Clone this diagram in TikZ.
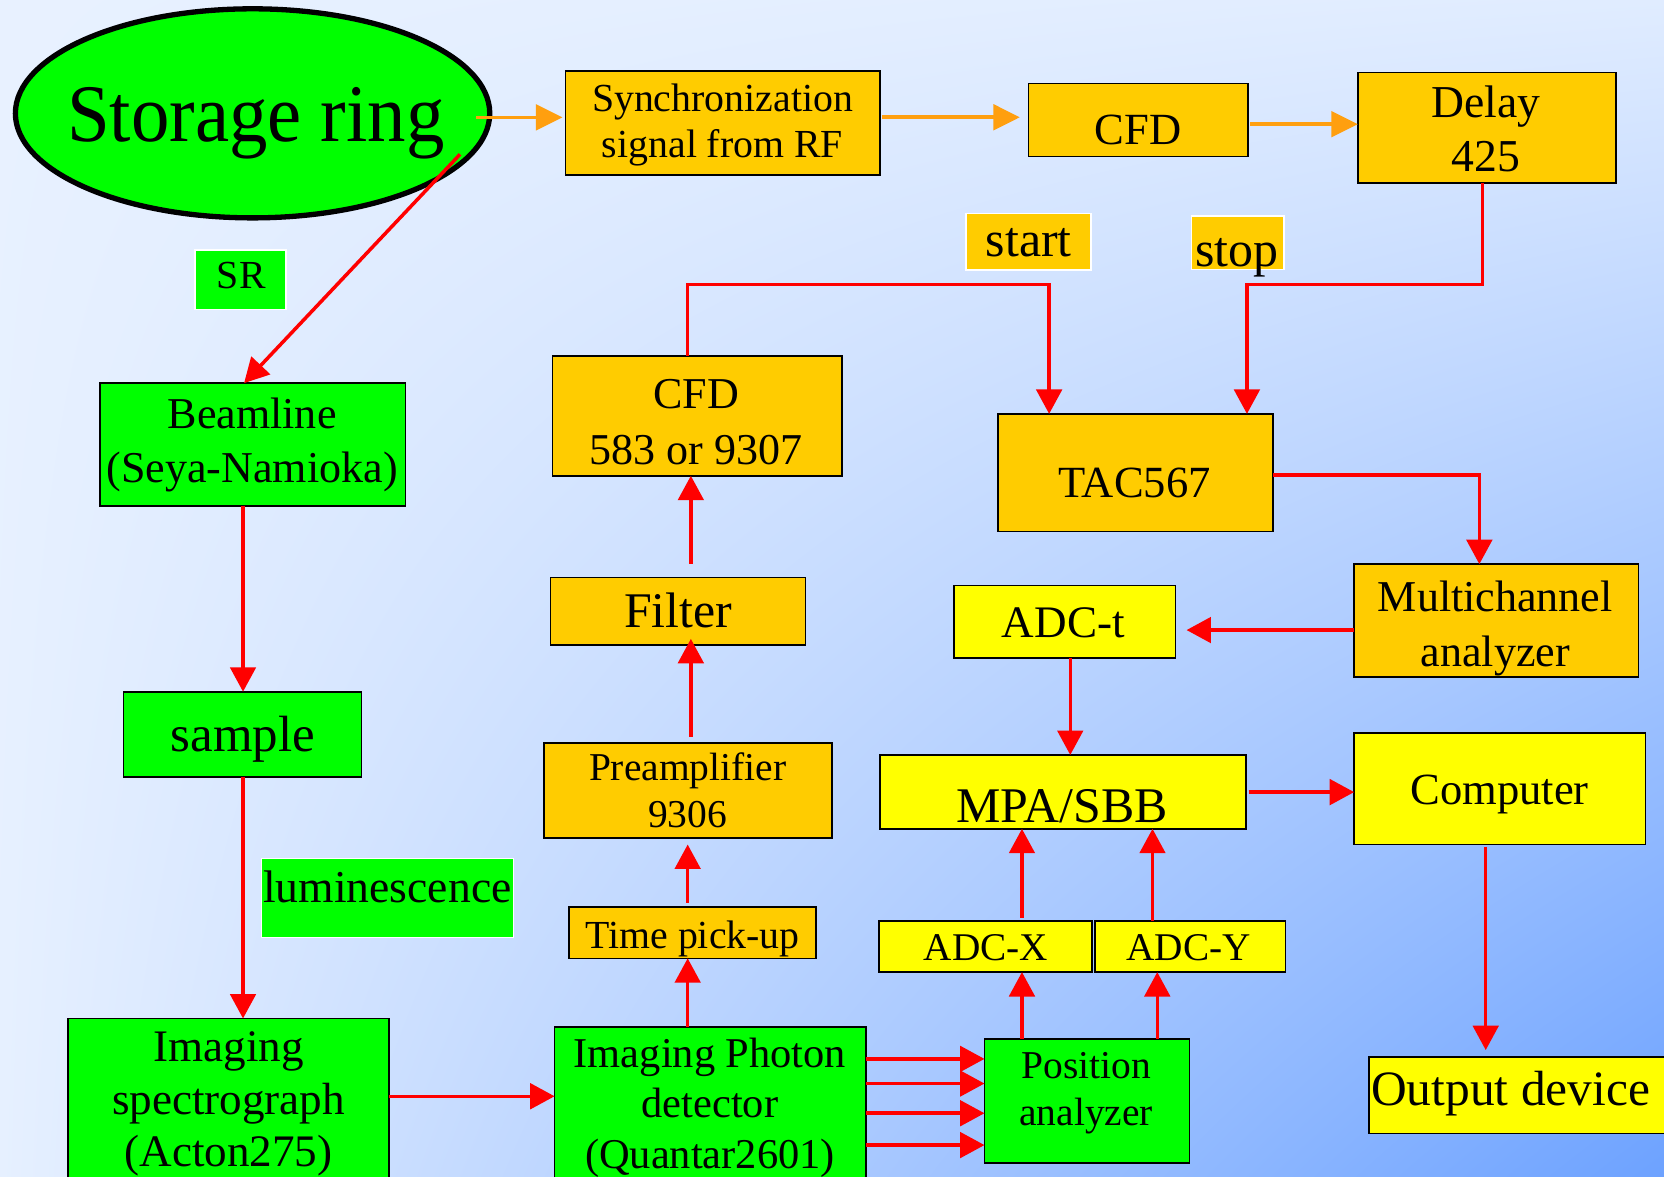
\documentclass[tikz,border=0pt]{standalone}
\usepackage{graphicx}
\usepackage{fontspec}
\setmainfont{Liberation Serif}
\usetikzlibrary{arrows.meta,shapes.geometric,shadings}
\definecolor{bgul}{HTML}{E8F1FF}
\definecolor{bgur}{HTML}{E0ECFF}
\definecolor{bgll}{HTML}{E6F0FF}
\definecolor{bglr}{HTML}{6DA2FF}
\definecolor{grn}{HTML}{00FF00}
\definecolor{amb}{HTML}{FFCC00}
\definecolor{ylw}{HTML}{FFFF00}
\definecolor{org}{HTML}{FF9F0F}
\definecolor{rd}{HTML}{FF0000}
\newcommand\fsz[2]{\fontsize{#1}{#2}\selectfont}
\begin{document}
\begin{tikzpicture}[x=1pt, y=-1pt,
  box/.style={rectangle, draw=black, line width=1.5pt, inner sep=0pt, outer sep=0pt},
  gbox/.style={box, fill=grn},
  abox/.style={box, fill=amb},
  ybox/.style={box, fill=ylw},
  tagbox/.style={rectangle, draw=white, line width=1.5pt, inner sep=0pt, outer sep=0pt},
  txt/.style={inner sep=0pt, outer sep=0pt, text=black},
  mtxt/.style={txt, align=center, anchor=north},
  stxt/.style={txt, anchor=base},
  rarr/.style={draw=rd, line width=3.3pt, -{Triangle[length=23pt,width=24pt]}},
  oarr/.style={draw=org, line width=3.5pt, -{Triangle[length=25pt,width=24pt]}}
]
% background
\shade[upper left=bgul, upper right=bgur, lower left=bgll, lower right=bglr] (0,0) rectangle (1568,1109);
\useasboundingbox (0,0) rectangle (1568,1109);

% storage ring
\node[ellipse, draw=black, line width=5pt, fill=grn, minimum width=447pt, minimum height=197pt, inner sep=0pt, outer sep=0pt] (ring) at (238,106.8) {};

% boxes
\node[abox, minimum width=296pt, minimum height=98pt] (sync) at (681,116) {};
\node[abox, minimum width=207pt, minimum height=69pt] (cfd1) at (1072.5,113) {};
\node[abox, minimum width=243.5pt, minimum height=104.1pt] (delay) at (1401.25,120.35) {};
\node[tagbox, fill=amb, minimum width=118pt, minimum height=53.6pt] (start) at (969,227.8) {};
\node[tagbox, fill=amb, minimum width=87.4pt, minimum height=50.4pt] (stop) at (1166.3,228.8) {};
\node[tagbox, fill=grn, minimum width=85.6pt, minimum height=55.9pt] (sr) at (226.8,263.65) {};
\node[gbox, minimum width=288pt, minimum height=115.6pt] (beam) at (238,418.8) {};
\node[abox, minimum width=272.4pt, minimum height=112.8pt] (cfd2) at (657,391.9) {};
\node[abox, minimum width=259.1pt, minimum height=111pt] (tac) at (1070.15,445.5) {};
\node[gbox, minimum width=224.1pt, minimum height=80.2pt] (sample) at (228.55,691.9) {};
\node[tagbox, fill=grn, minimum width=237.6pt, minimum height=74.7pt] (lum) at (365.2,846.15) {};
\node[gbox, minimum width=302.8pt, minimum height=164.8pt] (spec) at (215.4,1042.1) {};
\node[gbox, minimum width=293.4pt, minimum height=157.8pt] (ipd) at (669.3,1046.5) {};
\node[gbox, minimum width=193.3pt, minimum height=117pt] (pa) at (1024.35,1037.5) {};
\node[abox, minimum width=233pt, minimum height=48.4pt] (tpu) at (652.5,878.8) {};
\node[abox, minimum width=271.3pt, minimum height=89.8pt] (preamp) at (648.15,744.9) {};
\node[abox, minimum width=240.3pt, minimum height=64pt] (filter) at (638.85,576) {};
\node[ybox, minimum width=208.6pt, minimum height=68.4pt] (adct) at (1003.3,585.8) {};
\node[ybox, minimum width=344.7pt, minimum height=69.6pt] (mpa) at (1001.65,746.2) {};
\node[ybox, minimum width=200.5pt, minimum height=48pt] (adcx) at (928.75,892) {};
\node[ybox, minimum width=179.5pt, minimum height=48pt] (adcy) at (1121.75,892) {};
\node[abox, minimum width=268pt, minimum height=106.4pt] (mca) at (1410,584.8) {};
\node[ybox, minimum width=274.5pt, minimum height=105.2pt] (comp) at (1413.25,743.2) {};
\node[ybox, minimum width=290pt, minimum height=72pt] (out) at (1435,1032) {};

% orange connectors
\coordinate (o1s) at (449,110.6);
\draw[oarr, shorten >=3pt] (o1s) -- (sync.west |- o1s);
\coordinate (o2y) at (0,110.5);
\draw[oarr, shorten <=2pt, shorten >=8pt] (sync.east |- o2y) -- (cfd1.west |- o2y);
\coordinate (o3y) at (0,117);
\draw[oarr, shorten <=2pt] (cfd1.east |- o3y) -- (delay.west |- o3y);

% red connectors
\coordinate (rs) at (433.5,145.4);
\coordinate (bx) at (230,0);
\draw[rarr] (rs) -- (beam.north -| bx);
\coordinate (sx) at (229,0);
\draw[rarr] (beam.south -| sx) -- (sample.north -| sx);
\draw[rarr] (sample.south -| sx) -- (spec.north -| sx);
\coordinate (sy) at (0,1033);
\draw[rarr] (spec.east |- sy) -- (ipd.west |- sy);
\coordinate (py1) at (0,997.8);
\coordinate (py2) at (0,1021);
\coordinate (py3) at (0,1049);
\coordinate (py4) at (0,1079);
\draw[rarr] (ipd.east |- py1) -- (pa.west |- py1);
\draw[rarr] (ipd.east |- py2) -- (pa.west |- py2);
\draw[rarr] (ipd.east |- py3) -- (pa.west |- py3);
\draw[rarr] (ipd.east |- py4) -- (pa.west |- py4);
\coordinate (tx) at (648,0);
\draw[rarr] (ipd.north -| tx) -- (tpu.south -| tx);
\draw[rarr, shorten <=4pt, shorten >=6pt] (tpu.north -| tx) -- (preamp.south -| tx);
\coordinate (fx) at (651,0);
\draw[rarr, shorten <=6pt, shorten >=-6pt] (preamp.north -| fx) -- (filter.south -| fx);
\draw[rarr, shorten <=13pt] (filter.north -| fx) -- (cfd2.south -| fx);
\coordinate (startc) at (988.6,268);
\draw[rarr] (cfd2.north -| tx) |- (startc) -- (tac.north -| startc);
\coordinate (dx) at (1397,0);
\coordinate (stopc) at (1175,268);
\draw[rarr] (delay.south -| dx) |- (stopc) -- (tac.north -| stopc);
\coordinate (mc) at (1394,447.6);
\draw[rarr] (tac.east |- mc) -| (mca.north -| mc);
\coordinate (my) at (0,593.7);
\draw[rarr, shorten >=10.5pt] (mca.west |- my) -- (adct.east |- my);
\coordinate (ax) at (1008.5,0);
\draw[rarr] (adct.south -| ax) -- (mpa.north -| ax);
\coordinate (cy) at (0,746.4);
\draw[rarr, shorten <=2.5pt] (mpa.east |- cy) -- (comp.west |- cy);
\coordinate (ox) at (1400,0);
\draw[rarr, shorten <=2pt, shorten >=6.5pt] (comp.south -| ox) -- (out.north -| ox);
\coordinate (xx) at (963,0);
\coordinate (yx) at (1086,0);
\coordinate (yx2) at (1090.5,0);
\draw[rarr, shorten <=3pt] (adcx.north -| xx) -- (mpa.south -| xx);
\draw[rarr] (adcy.north -| yx) -- (mpa.south -| yx);
\draw[rarr] (pa.north -| xx) -- (adcx.south -| xx);
\draw[rarr] (pa.north -| yx2) -- (adcy.south -| yx2);

% texts
\node[stxt, font=\fsz{77}{80}] (ring-t) at (241.1,133.5) {\scalebox{0.94}[1]{Storage ring}};
\node[mtxt, font=\fsz{37.5}{43.4}] (sync-t) at (680.8,78.7) {Synchronization\\signal from RF};
\node[stxt, font=\fsz{42}{48}] (cfd1-t) at (1072.6,136.3) {CFD};
\node[mtxt, font=\fsz{43}{50.6}] (delay-t) at (1400,81) {Delay\\425};
\node[stxt, font=\fsz{47}{52}] (start-t) at (969.5,241.6) {start};
\node[stxt, font=\fsz{47}{52}] (stop-t) at (1165.3,250.8) {stop};
\node[stxt, font=\fsz{37.5}{44}] (sr-t) at (227.3,271.7) {SR};
\node[mtxt, font=\fsz{41.5}{51.5}] (beam-t) at (237.6,374.7) {Beamline\\(Seya-Namioka)};
\node[mtxt, font=\fsz{41.5}{52.5}] (cfd2-t) at (656,357.3) {CFD\\583 or 9307};
\node[stxt, font=\fsz{42}{48}] (tac-t) at (1069,468.6) {TAC567};
\node[mtxt, font=\fsz{41.5}{52}] (mca-t) at (1409,547.6) {Multichannel\\analyzer};
\node[stxt, font=\fsz{42.5}{48}] (adct-t) at (1002,600.5) {ADC-t};
\node[stxt, font=\fsz{47}{52}] (filter-t) at (639,591) {Filter};
\node[mtxt, font=\fsz{37.2}{44.1}] (preamp-t) at (648,709) {Preamplifier\\9306};
\node[stxt, font=\fsz{37.5}{44}] (tpu-t) at (652.6,893.4) {Time pick-up};
\node[stxt, font=\fsz{47}{52}] (mpa-t) at (1000.7,774.7) {MPA/SBB};
\node[stxt, font=\fsz{42}{48}] (comp-t) at (1413,757.7) {Computer};
\node[stxt, font=\fsz{46.6}{52}] (out-t) at (1423.5,1042) {Output device};
\node[stxt, font=\fsz{37}{44}] (adcx-t) at (929,905.5) {ADC-X};
\node[stxt, font=\fsz{37}{44}] (adcy-t) at (1120,905.5) {ADC-Y};
\node[stxt, font=\fsz{48}{54}] (sample-t) at (229,708.4) {sample};
\node[stxt, font=\fsz{43}{50}] (lum-t) at (365,850) {luminescence};
\node[mtxt, font=\fsz{42.5}{49.4}] (spec-t) at (215.4,972.4) {Imaging\\spectrograph\\(Acton275)};
\node[mtxt, font=\fsz{40}{47.8}] (ipd-t) at (669,977.7) {Imaging Photon\\detector\\(Quantar2601)};
\node[mtxt, font=\fsz{37.2}{44.3}] (pa-t) at (1023.5,991.4) {Position\\analyzer};
\end{tikzpicture}
\end{document}
